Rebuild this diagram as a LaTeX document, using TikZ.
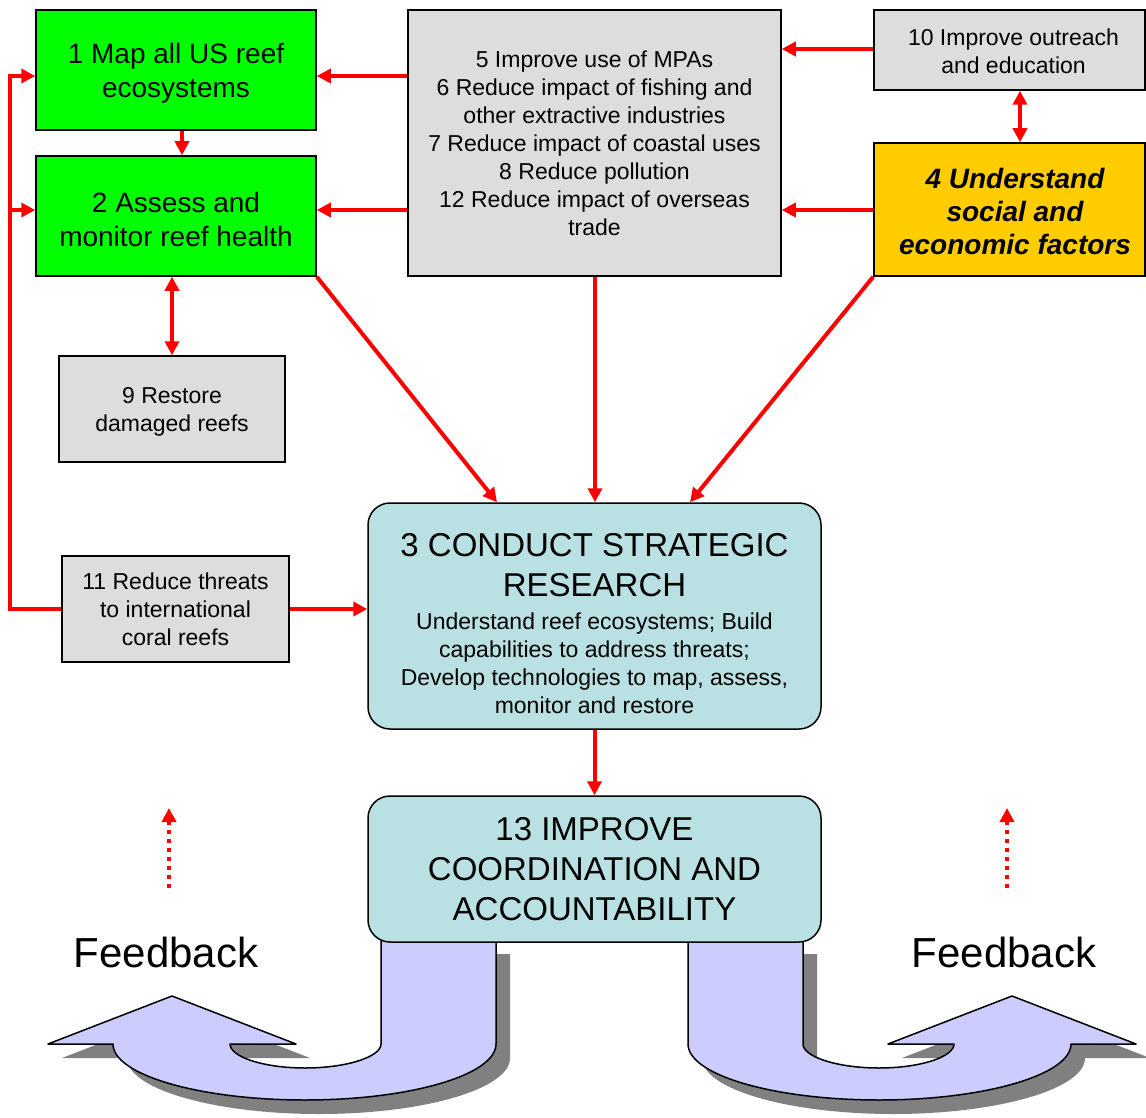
\documentclass[tikz,border=0pt]{standalone}
\usepackage{fontspec}
\setmainfont{Liberation Sans}
\usetikzlibrary{arrows.meta}
\definecolor{boxgreen}{HTML}{00FF00}
\definecolor{boxgray}{HTML}{DDDDDD}
\definecolor{boxyellow}{HTML}{FFCC00}
\definecolor{boxcyan}{HTML}{B9E0E2}
\definecolor{arrowred}{HTML}{FF0000}
\definecolor{lavender}{HTML}{CCCCFF}
\definecolor{shadowgray}{HTML}{808080}
\newcommand\LeftUArrow[1]{\path[#1] (381,940) -- (496,940) -- (496,1044)
  .. controls (496,1075) and (410,1100) .. (305,1100)
  .. controls (200,1100) and (113,1075) .. (113,1044)
  -- (48,1044) -- (172,996) -- (296,1044) -- (230,1044)
  .. controls (230,1057) and (264,1068) .. (305,1068)
  .. controls (346,1068) and (381,1057) .. (381,1044) -- cycle;}
\newcommand\RightUArrow[1]{\path[#1] (803,940) -- (688,940) -- (688,1044)
  .. controls (688,1075) and (774,1100) .. (879,1100)
  .. controls (984,1100) and (1071,1075) .. (1071,1044)
  -- (1136,1044) -- (1012,996) -- (888,1044) -- (954,1044)
  .. controls (954,1057) and (920,1068) .. (879,1068)
  .. controls (838,1068) and (803,1057) .. (803,1044) -- cycle;}
\tikzset{
  box/.style={draw=black, line width=1.5pt, align=center, inner sep=0pt},
  greenbox/.style={box, fill=boxgreen, minimum width=280pt, minimum height=120pt},
  gtext/.style={font=\fontsize{28}{34}\selectfont, align=center},
  graybox/.style={box, fill=boxgray, font=\fontsize{23}{28}\selectfont},
  smalltext/.style={font=\fontsize{23}{28}\selectfont, align=center},
  rbox/.style={box, fill=boxcyan, rounded corners=22pt},
  rarrow/.style={draw=arrowred, line width=4pt, -{Triangle[length=14pt,width=14pt]}},
  rarrowboth/.style={draw=arrowred, line width=4pt, {Triangle[length=14pt,width=14pt]}-{Triangle[length=14pt,width=14pt]}},
  dotarrow/.style={draw=arrowred, line width=4pt, dash pattern=on 4pt off 5pt, -{Triangle[length=14pt,width=14pt]}},
  ubend/.style={fill=lavender, draw=black, line width=1.5pt, line join=round},
  ushadow/.style={fill=shadowgray},
  fbtext/.style={font=\fontsize{42}{50}\selectfont},
}
\begin{document}
\begin{tikzpicture}[x=1pt,y=-1pt]
\useasboundingbox (0,0) rectangle (1146,1118);
\fill[white] (0,0) rectangle (1146,1118);

% U-shaped feedback arrows
\begin{scope}[shift={(14,14)}]
  \LeftUArrow{ushadow}
  \RightUArrow{ushadow}
\end{scope}
\LeftUArrow{ubend}
\RightUArrow{ubend}

% boxes
\node[greenbox] (b1) at (176,70) {};
\node[gtext] (t1) at (176,73) {1 Map all US reef\\ecosystems};
\node[greenbox] (b2) at (176,216) {};
\node[gtext] (t2) at (176,219) {2 Assess and\\monitor reef health};
\node[graybox, minimum width=373pt, minimum height=266pt] (b5) at (594.5,143)
  {5 Improve use of MPAs\\6 Reduce impact of fishing and\\other extractive industries\\7 Reduce impact of coastal uses\\8 Reduce pollution\\12 Reduce impact of overseas\\trade};
\node[graybox, minimum width=271pt, minimum height=80pt] (b10) at (1009.5,50) {};
\node[smalltext] (t10) at (1013.5,51) {10 Improve outreach\\and education};
\node[box, fill=boxyellow, minimum width=271pt, minimum height=133pt] (b4) at (1009.5,209.5) {};
\node[font=\fontsize{28}{33}\selectfont\bfseries\itshape, align=center] (t4) at (1015,211.5) {4 Understand\\social and\\economic factors};
\node[graybox, minimum width=226pt, minimum height=106pt] (b9) at (172,409) {};
\node[smalltext] (t9) at (172,412) {9 Restore\\damaged reefs};
\node[graybox, minimum width=227pt, minimum height=106pt] (b11) at (175.5,609) {11 Reduce threats\\to international\\coral reefs};
\node[rbox, minimum width=453pt, minimum height=226pt] (b3) at (594.5,616) {};
\node[font=\fontsize{33}{40}\selectfont, align=center] (t3a) at (594.5,565) {3 CONDUCT STRATEGIC\\RESEARCH};
\node[smalltext] (t3b) at (594.5,663) {Understand reef ecosystems; Build\\capabilities to address threats;\\Develop technologies to map, assess,\\monitor and restore};
\node[rbox, minimum width=453pt, minimum height=146pt, font=\fontsize{33}{40}\selectfont] (b13) at (594.5,869) {13 IMPROVE\\COORDINATION AND\\ACCOUNTABILITY};

% connectors
\draw[rarrow] (b5.west |- 0,76) -- (b1.east |- 0,76);
\draw[rarrow] (b5.west |- 0,210) -- (b2.east |- 0,210);
\draw[rarrow] (b10.west |- 0,49) -- (b5.east |- 0,49);
\draw[rarrow] (b4.west |- 0,210) -- (b5.east |- 0,210);
\draw[rarrowboth] (b10.south -| 1020,0) -- (b4.north -| 1020,0);
\draw[rarrow] (b1.south -| 182,0) -- (b2.north -| 182,0);
\draw[rarrowboth] (b2.south -| b9.north) -- (b9.north);
\draw[rarrow] (b2.south east) -- (b3.north -| 497,0);
\draw[rarrow] (b5.south -| 595,0) -- (b3.north -| 595,0);
\draw[rarrow] (b4.south west) -- (b3.north -| 690,0);
\draw[rarrow] (b11.east) -- (b3.west |- b11.east);
\draw[rarrow] (b11.west) -- (10,609) -- (10,76) -- (b1.west |- 0,76);
\draw[rarrow] (10,210) -- (b2.west |- 0,210);
\draw[rarrow] (b3.south) -- (b13.north);

% feedback
\coordinate (fbL1) at (169,888);
\coordinate (fbL2) at (169,808);
\coordinate (fbR1) at (1007,888);
\coordinate (fbR2) at (1007,808);
\draw[dotarrow] (fbL1) -- (fbL2);
\draw[dotarrow] (fbR1) -- (fbR2);
\node[fbtext] (fbL) at (166,952) {Feedback};
\node[fbtext] (fbR) at (1004,952) {Feedback};
\end{tikzpicture}
\end{document}
